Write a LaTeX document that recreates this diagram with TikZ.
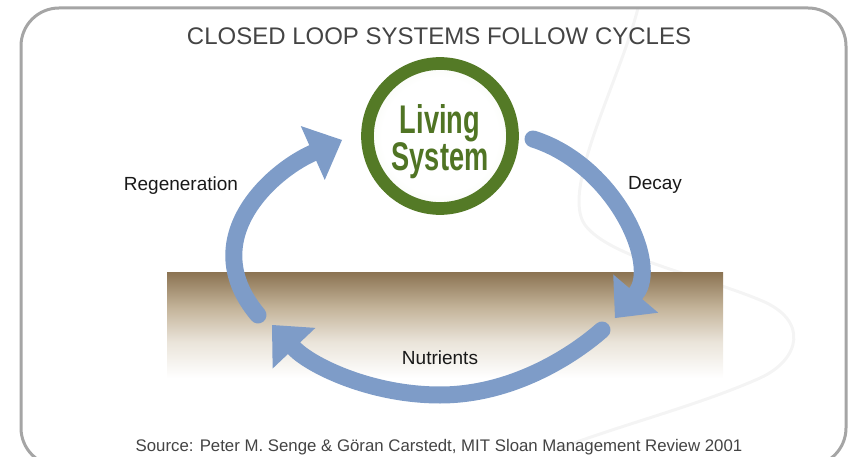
\documentclass[tikz,border=0pt]{standalone}
\usepackage{fontspec}
\setmainfont{Liberation Sans}
\usepackage{tikz}
\usetikzlibrary{arrows.meta}
\definecolor{frameGray}{RGB}{165,165,165}
\definecolor{swirlGray}{RGB}{244,244,244}
\definecolor{arrowBlue}{RGB}{126,156,200}
\definecolor{ringGreen}{RGB}{84,122,38}
\definecolor{textGreen}{RGB}{80,116,36}
\definecolor{innerLight}{RGB}{232,240,222}
\definecolor{innerGreen}{RGB}{188,210,158}
\definecolor{soilTop}{RGB}{139,115,82}
\definecolor{soilMid}{RGB}{196,180,154}
\definecolor{soilLow}{RGB}{234,228,218}
\definecolor{labelBlack}{RGB}{25,25,25}
\definecolor{captionGray}{RGB}{68,68,68}
\pgfdeclareverticalshading{soilShade}{100bp}{color(0bp)=(white); color(25bp)=(white); color(42bp)=(soilLow); color(58bp)=(soilMid); color(75bp)=(soilTop); color(100bp)=(soilTop)}
\pgfdeclareradialshading{livingShade}{\pgfpoint{0bp}{0bp}}{color(0bp)=(white); color(20bp)=(white); color(38bp)=(innerLight); color(50bp)=(innerGreen); color(100bp)=(innerGreen)}
\tikzstyle{picture} = [x = 1pt, y = -1pt]
\tikzstyle{frameLine} = [color=frameGray, line width=3pt, rounded corners=38pt]
\tikzstyle{swirlLine} = [color=swirlGray, line width=3pt]
\tikzstyle{soilBand} = [shading=soilShade, draw=none]
\tikzstyle{cycleArrow} = [color=arrowBlue, line width=17pt, line cap=round, -{Triangle[length=32pt, width=59pt, line width=0pt]}]
\tikzstyle{livingRing} = [circle, draw=ringGreen, line width=12.7pt, shade, shading=livingShade, minimum size=145pt, inner sep=0pt]
\tikzstyle{livingText} = [anchor=north, align=center, text=textGreen, inner sep=0pt, font=\fontsize{40}{32}\selectfont\bfseries]
\tikzstyle{labelText} = [anchor=base, text=labelBlack, inner sep=0pt, font=\fontsize{19}{22}\selectfont]
\tikzstyle{titleText} = [anchor=base, text=captionGray, inner sep=0pt, font=\fontsize{24}{28}\selectfont]
\tikzstyle{sourceText} = [anchor=base, text=captionGray, inner sep=0pt, font=\fontsize{16.8}{20}\selectfont]
\newcommand{\narrowWord}[1]{\scalebox{.68}[1]{#1}}
\begin{document}
\begin{tikzpicture}[picture]
  \useasboundingbox (0,0) rectangle (854,457);
  \draw [swirlLine] (638,8) .. controls (620,80) and (560,190) .. (585,225)
    .. controls (610,258) and (700,275) .. (760,300)
    .. controls (810,320) and (800,360) .. (760,378)
    .. controls (700,405) and (620,425) .. (555,450);
  \draw [frameLine] (21,8) rectangle (846,466);
  \node [titleText] (title) at (439,45) {CLOSED LOOP SYSTEMS FOLLOW CYCLES};

  \fill [soilBand] (167,272) rectangle (723,378);

  \node [livingRing] (living) at (440,136) {};
  \node [livingText] (livingWords) at (440,104) {\narrowWord{Living}\\\narrowWord{System}};

  \coordinate (decayStart) at (533,139);
  \coordinate (decayEnd) at (615,318);
  \coordinate (nutrientsStart) at (602,330);
  \coordinate (nutrientsLow) at (440,395);
  \coordinate (nutrientsEnd) at (272,325);
  \coordinate (regenStart) at (258,315);
  \coordinate (regenEnd) at (342,140);

  \draw [cycleArrow] (decayStart) .. controls (615,165) and (660,265) .. (decayEnd);
  \draw [cycleArrow] (nutrientsStart) .. controls (570,358) and (510,395) .. (nutrientsLow)
    .. controls (370,395) and (310,365) .. (nutrientsEnd);
  \draw [cycleArrow] (regenStart) .. controls (195,240) and (270,172) .. (regenEnd);

  \node [labelText] (regeneration) at (181,191) {Regeneration};
  \node [labelText] (decay) at (655,190) {Decay};
  \node [labelText] (nutrients) at (440,364) {Nutrients};
  \node [sourceText] (source) at (439,451) {Source: Peter M. Senge \& Göran Carstedt, MIT Sloan Management Review 2001};
\end{tikzpicture}
\end{document}
